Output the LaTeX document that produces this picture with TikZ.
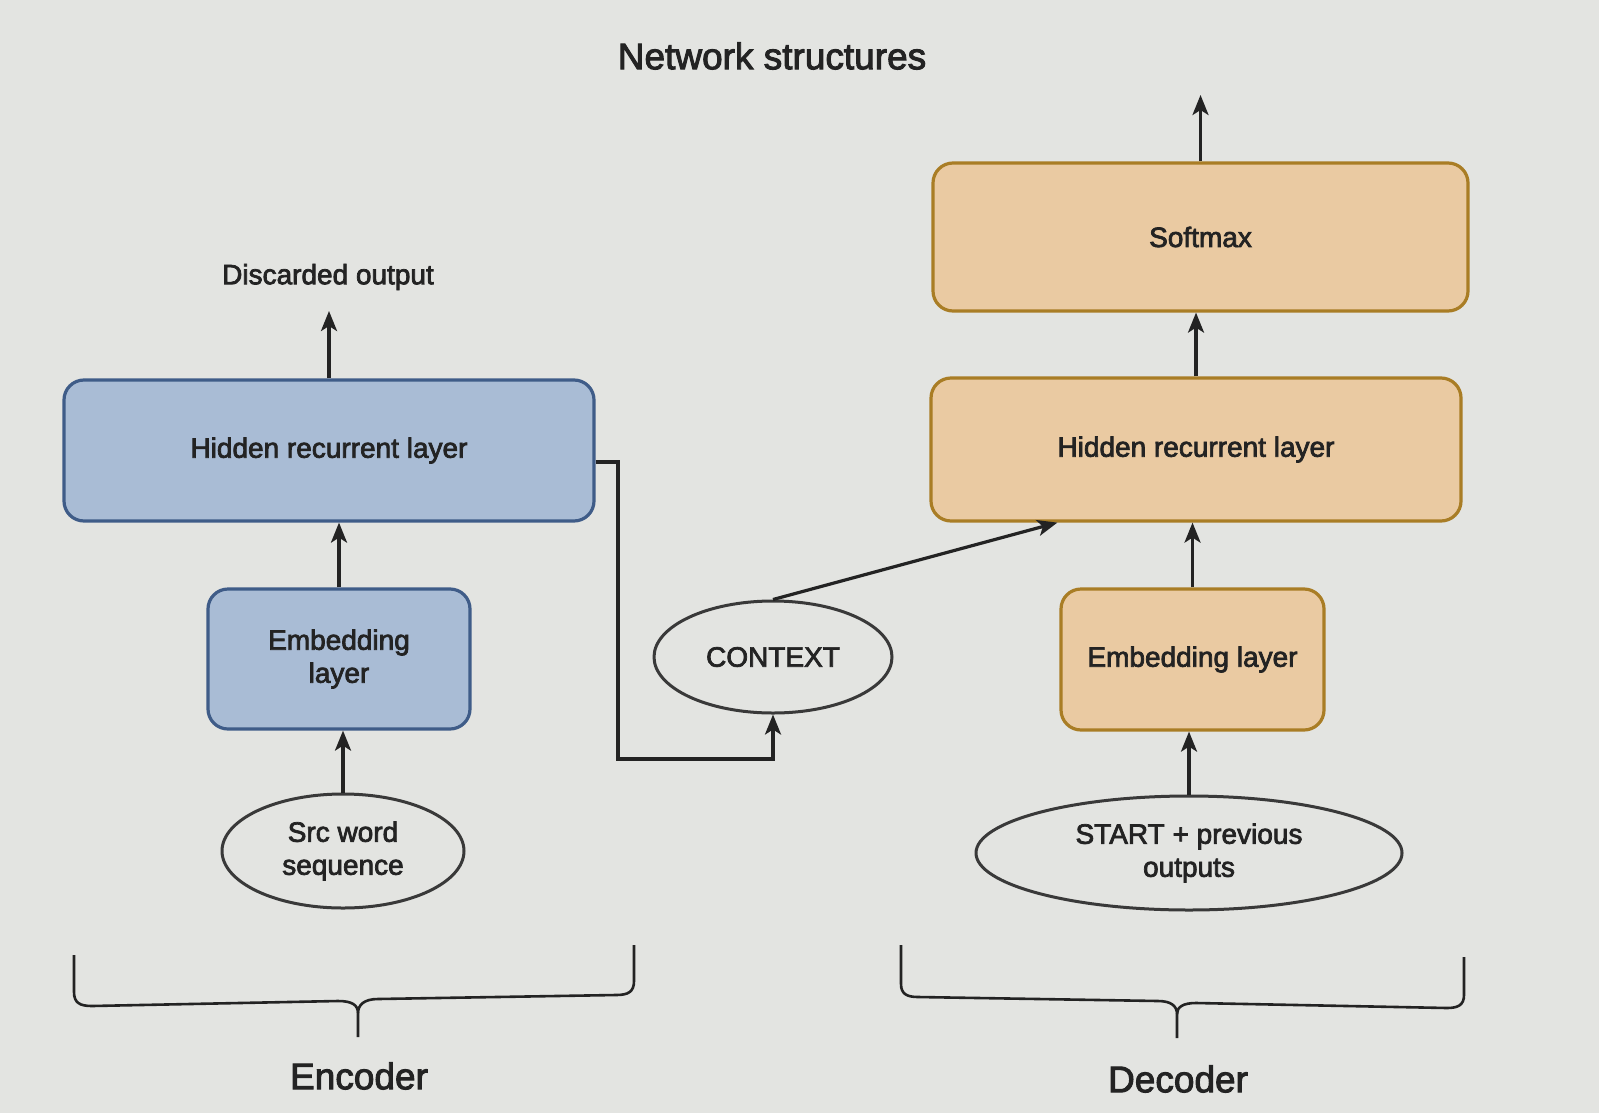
\documentclass[tikz,border=0pt]{standalone}
\usepackage{fontspec}
\setmainfont{Liberation Sans}
\newfontfamily\medfont[FakeBold=2.6]{Liberation Sans}
\usetikzlibrary{arrows.meta,shapes.geometric,calc}
\definecolor{bg}{HTML}{E3E4E1}
\definecolor{bluefill}{HTML}{A9BCD5}
\definecolor{blueline}{HTML}{3F5C88}
\definecolor{orfill}{HTML}{EACAA2}
\definecolor{orline}{HTML}{A97D25}
\definecolor{ink}{HTML}{232323}
\tikzset{
  lbl/.style={text=ink, font=\medfont\fontsize{14}{16.5}\selectfont, align=center},
  bluebox/.style={lbl, rectangle, rounded corners=10pt, draw=blueline, fill=bluefill, line width=1.6pt},
  orbox/.style={lbl, rectangle, rounded corners=10pt, draw=orline, fill=orfill, line width=1.6pt},
  ell/.style={lbl, ellipse, draw=ink!90, line width=1.5pt, inner sep=0pt},
  arr/.style={draw=ink, line width=1.6pt, -{Stealth[length=10pt,width=8pt,inset=2.5pt]}},
  brace/.style={draw=ink, line width=1.3pt},
  big/.style={text=ink, font=\medfont\fontsize{18.5}{21}\selectfont}
}
\begin{document}
\begin{tikzpicture}[x=0.5pt,y=-0.5pt]
\fill[bg] (0,0) rectangle (1599,1113);
\useasboundingbox (0,0) rectangle (1599,1113);

\node[big] (title) at (772,56) {Network structures};

% Encoder
\node[bluebox, minimum width=265pt, minimum height=70.5pt] (ehid) at (329,450.5) {Hidden recurrent layer};
\node[bluebox, minimum width=131pt, minimum height=70pt] (eemb) at (339,659) {Embedding\\layer};
\node[ell, minimum width=121pt, minimum height=57pt] (src) at (343,851) {Src word\\sequence};
\node[lbl] (dout) at (328,277) {Discarded output};
\coordinate (doutend) at (329,311);

% Context
\node[ell, minimum width=119pt, minimum height=56pt] (ctx) at (773,657) {CONTEXT};
\coordinate (cbend) at (618,759);

% Decoder
\node[orbox, minimum width=267.5pt, minimum height=74pt] (soft) at (1200.5,237) {Softmax};
\node[orbox, minimum width=265pt, minimum height=71.5pt] (dhid) at (1196,449.5) {Hidden recurrent layer};
\node[orbox, minimum width=131.5pt, minimum height=70.5pt] (demb) at (1192.5,659.5) {Embedding layer};
\node[ell, minimum width=213pt, minimum height=57pt] (start) at (1189,853) {START + previous\\outputs};
\coordinate (outend) at (1200.5,95);

% Encoder arrows
\draw[arr] (src.north) -- (src.north |- eemb.south);
\draw[arr] (eemb.north) -- (eemb.north |- ehid.south);
\draw[arr] (ehid.north) -- (doutend);

% Context arrows
\draw[arr] ($(ehid.east)+(0,11.5)$) -| (cbend) -| (ctx.south);
\draw[arr] (ctx.north) -- ($(dhid.south west)+(128,0)$);

% Decoder arrows
\draw[arr] (start.north) -- (start.north |- demb.south);
\draw[arr] (demb.north) -- (demb.north |- dhid.south);
\draw[arr] (dhid.north) -- (dhid.north |- soft.south);
\draw[arr] (soft.north) -- (outend);

% Encoder brace
\draw[brace] (74,955) -- (74,992) .. controls (74,1003) and (80,1006) .. (92,1006) -- (338,1001) .. controls (352,1001) and (358,1005) .. (358,1013) -- (358,1037);
\draw[brace] (634,945) -- (634,981) .. controls (634,992) and (628,995) .. (616,995) -- (378,999) .. controls (364,999) and (358,1005) .. (358,1013);
\node[big] (enc) at (359,1076) {Encoder};

% Decoder brace
\draw[brace] (901,945) -- (901,984) .. controls (901,994) and (907,997) .. (918,997) -- (1158,1001) .. controls (1171,1001) and (1177,1006) .. (1177,1014) -- (1177,1038);
\draw[brace] (1464,957) -- (1464,995) .. controls (1464,1005) and (1458,1008) .. (1447,1008) -- (1196,1003) .. controls (1183,1003) and (1177,1007) .. (1177,1014);
\node[big] (dec) at (1178,1079) {Decoder};
\end{tikzpicture}
\end{document}
